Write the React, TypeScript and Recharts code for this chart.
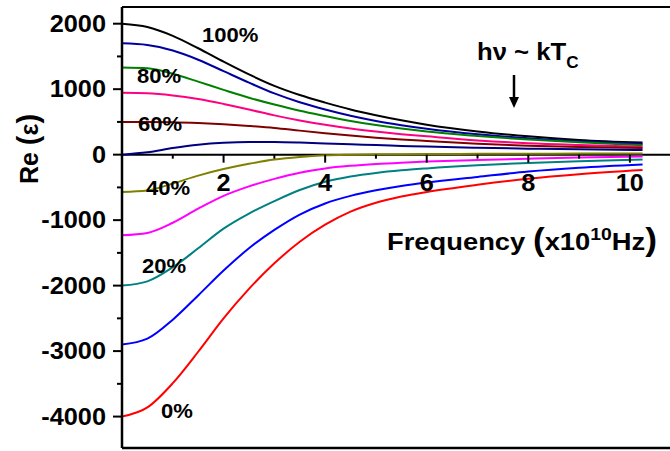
import { ComposedChart, Line, XAxis, YAxis, ReferenceLine, Scatter } from 'recharts';

// frequency in units of 10^10 Hz
const freq = [0, 0.5, 1, 1.5, 2, 2.5, 3, 3.5, 4, 4.5, 5, 5.5, 6, 7, 8, 9, 10.25];

const p100 = [2000, 1950, 1815, 1625, 1420, 1225, 1050, 910, 795, 690, 603, 525, 458, 355, 280, 225, 184];
const p90 = [1700, 1675, 1590, 1450, 1275, 1100, 935, 800, 690, 595, 515, 450, 395, 310, 250, 205, 163];
const p80 = [1330, 1318, 1235, 1115, 990, 870, 765, 670, 590, 515, 452, 398, 352, 285, 230, 188, 145];
const p70 = [945, 938, 905, 850, 775, 690, 600, 522, 455, 398, 352, 313, 280, 218, 175, 148, 122];
const p60 = [500, 500, 495, 482, 463, 438, 408, 367, 328, 292, 260, 233, 210, 167, 137, 117, 100];
const p50 = [0, 35, 100, 152, 182, 194, 193, 185, 172, 159, 147, 134, 123, 106, 92, 81, 70];
const p40 = [-570, -548, -440, -320, -220, -140, -75, -35, -10, 0, 5, 8, 10, 12, 14, 16, 18];
const p30 = [-1230, -1195, -1040, -825, -630, -485, -370, -275, -210, -170, -142, -122, -106, -82, -62, -45, -28];
const p20 = [-2000, -1935, -1720, -1430, -1130, -900, -710, -540, -415, -335, -280, -240, -210, -162, -126, -100, -75];
const p10 = [-2900, -2810, -2520, -2150, -1770, -1430, -1150, -915, -745, -630, -545, -478, -425, -340, -258, -200, -150];
const p0 = [-4000, -3860, -3490, -3010, -2500, -2050, -1660, -1330, -1070, -870, -735, -640, -570, -460, -368, -300, -236];

const seriesList = [
  { key: 'p100', values: p100, color: '#000000' },
  { key: 'p90', values: p90, color: '#0000A0' },
  { key: 'p80', values: p80, color: '#008000' },
  { key: 'p70', values: p70, color: '#FF0080' },
  { key: 'p60', values: p60, color: '#800000' },
  { key: 'p50', values: p50, color: '#000080' },
  { key: 'p40', values: p40, color: '#808000' },
  { key: 'p30', values: p30, color: '#FF00FF' },
  { key: 'p20', values: p20, color: '#008080' },
  { key: 'p10', values: p10, color: '#0000FF' },
  { key: 'p0', values: p0, color: '#FF0000' },
];

const xTicks = [1, 2, 3, 4, 5, 6, 7, 8, 9, 10];
const yTicks = [-4000, -3500, -3000, -2500, -2000, -1500, -1000, -500, 0, 500, 1000, 1500, 2000];
const Y_MIN = -4480;
const Y_MAX = 2255;

const data = freq.map((f, i) => {
  const row: Record<string, number> = { f };
  seriesList.forEach((s) => (row[s.key] = s.values[i]));
  return row;
});

const zeroTickRows = xTicks.map((f) => ({ f, v: 0 }));

const FONT = '"Liberation Sans", Arial, sans-serif';

const YTick = (props: any) => {
  const { x, y, payload } = props;
  const major = payload.value % 1000 === 0;
  return (
    <g>
      <line x1={x - (major ? 9 : 5)} x2={x} y1={y} y2={y} stroke="#000" strokeWidth={2} />
      {major && (
        <text
          transform={`translate(${x - 16},${y + 8}) scale(1.1,1)`}
          textAnchor="end"
          fontFamily={FONT}
          fontWeight="bold"
          fontSize={23}
          fill="#000"
        >
          {payload.value}
        </text>
      )}
    </g>
  );
};

// tick marks + labels on the axis that runs through zero
const ZeroAxisTick = (props: any) => {
  const { cx, cy, payload } = props;
  const major = payload.f % 2 === 0;
  return (
    <g>
      <line x1={cx} x2={cx} y1={cy} y2={cy + (major ? 8 : 4)} stroke="#000" strokeWidth={2} />
      {major && (
        <text
          transform={`translate(${cx},${cy + 36}) scale(1.1,1)`}
          textAnchor="middle"
          fontFamily={FONT}
          fontWeight="bold"
          fontSize={23}
          fill="#000"
        >
          {payload.f}
        </text>
      )}
    </g>
  );
};

const pctLabels = [
  { text: '100%', x: 202, y: 42 },
  { text: '80%', x: 137, y: 83 },
  { text: '60%', x: 138, y: 131 },
  { text: '40%', x: 146, y: 195 },
  { text: '20%', x: 142, y: 273 },
  { text: '0%', x: 161, y: 418 },
];

export default function App() {
  return (
    <div style={{ position: 'absolute', left: 0, top: 0, width: 670, height: 451, background: '#fff' }}>
      <ComposedChart width={670} height={451} data={data} margin={{ top: 7, right: 0, bottom: 2, left: 0 }}>
        <XAxis
          xAxisId="main"
          dataKey="f"
          type="number"
          domain={[0, 10.79]}
          ticks={xTicks}
          height={1}
          tick={false}
          tickLine={false}
          axisLine={{ stroke: '#000', strokeWidth: 2.5 }}
        />
        <XAxis
          xAxisId="top"
          orientation="top"
          dataKey="f"
          type="number"
          domain={[0, 10.79]}
          ticks={xTicks}
          height={1}
          mirror
          tick={false}
          tickSize={4}
          tickLine={{ stroke: '#000', strokeWidth: 2 }}
          axisLine={{ stroke: '#000', strokeWidth: 2 }}
        />
        <YAxis
          type="number"
          domain={[Y_MIN, Y_MAX]}
          ticks={yTicks}
          width={122}
          tickSize={0}
          tickMargin={0}
          tickLine={false}
          tick={<YTick />}
          axisLine={{ stroke: '#000', strokeWidth: 2.5 }}
        />
        <ReferenceLine xAxisId="main" y={0} stroke="#000" strokeWidth={2} />
        {seriesList.map((s) => (
          <Line
            key={s.key}
            xAxisId="main"
            dataKey={s.key}
            type="monotone"
            stroke={s.color}
            strokeWidth={2}
            dot={false}
            isAnimationActive={false}
          />
        ))}
        <Scatter
          xAxisId="main"
          data={zeroTickRows}
          dataKey="v"
          shape={<ZeroAxisTick />}
          isAnimationActive={false}
        />
      </ComposedChart>
      <svg
        width={670}
        height={451}
        style={{ position: 'absolute', left: 0, top: 0, pointerEvents: 'none' }}
        fontFamily={FONT}
        fontWeight="bold"
      >
        {pctLabels.map((l) => (
          <text key={l.text} transform={`translate(${l.x},${l.y}) scale(1.05,1)`} fontSize={21} fill="#000">
            {l.text}
          </text>
        ))}
        <text transform="translate(38,149) rotate(-90)" textAnchor="middle" fontSize={25} fill="#000">
          Re <tspan fontSize={29}>(</tspan>ε<tspan fontSize={29}>)</tspan>
        </text>
        <text transform="translate(477,60) scale(1.07,1)" fontSize={24} fill="#000">
          hν ~ kT
          <tspan fontSize={16} dy={8}>C</tspan>
        </text>
        <line x1={514} x2={514} y1={75} y2={99} stroke="#000" strokeWidth={2.5} />
        <polygon points="509,97 519,97 514,108" fill="#000" />
        <text transform="translate(387,250) scale(1.14,1)" fontSize={24} fill="#000">
          Frequency <tspan fontSize={31}>(</tspan>x10
          <tspan fontSize={17} dy={-10}>10</tspan>
          <tspan dy={10}>Hz</tspan>
          <tspan fontSize={31}>)</tspan>
        </text>
      </svg>
    </div>
  );
}
